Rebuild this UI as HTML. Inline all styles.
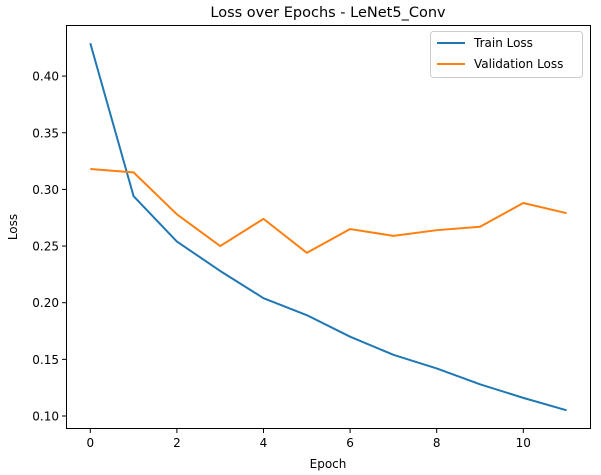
<!DOCTYPE html>
<html><head><meta charset="utf-8"><style>
body{margin:0;background:#fff}
svg{display:block;font-family:"DejaVu Sans","Liberation Sans",sans-serif}
</style></head><body>
<svg id="chart" width="601" height="475">
<text x="328" y="17" text-anchor="middle" font-size="14.5">Loss over Epochs - LeNet5_Conv</text>
<g id="plot"></g>
<rect x="66.5" y="25.5" width="524" height="403" fill="none" stroke="#000" stroke-width="1"/>
<text x="328" y="468" text-anchor="middle" font-size="12">Epoch</text>
<text x="17" y="227" text-anchor="middle" font-size="12" transform="rotate(-90 17 227)">Loss</text>
<g>
<rect x="430.5" y="31.5" width="152" height="46" rx="3" fill="#fff" stroke="#ccc"/>
<line x1="437" y1="43" x2="465" y2="43" stroke="#1f77b4" stroke-width="2"/>
<text x="474" y="47" font-size="12">Train Loss</text>
<line x1="437" y1="64" x2="465" y2="64" stroke="#ff7f0e" stroke-width="2"/>
<text x="474" y="68" font-size="12">Validation Loss</text>
</g>
</svg>
<script>
const epochs=[0,1,2,3,4,5,6,7,8,9,10,11];
const trainLoss=[0.429,0.294,0.254,0.228,0.204,0.189,0.170,0.154,0.142,0.128,0.116,0.105];
const valLoss=[0.318,0.315,0.278,0.250,0.274,0.244,0.265,0.259,0.264,0.267,0.288,0.279];
const xTicks=[0,2,4,6,8,10];
const yTicks=[0.10,0.15,0.20,0.25,0.30,0.35,0.40];
const xs=v=>90.3+v*43.3;
const ys=v=>416-(v-0.10)*1133;
const NS="http://www.w3.org/2000/svg";
const g=document.getElementById('plot');
function mk(t,a){const e=document.createElementNS(NS,t);for(const k in a)e.setAttribute(k,a[k]);g.appendChild(e);return e;}
xTicks.forEach(t=>{
 const l=mk('line',{x1:xs(t),x2:xs(t),y1:428.5,y2:433,stroke:'#000'});
 
 
 const tx=mk('text',{x:xs(t),y:447,'text-anchor':'middle','font-size':12});
 tx.textContent=t;
 
 
});
yTicks.forEach(t=>{
 const l=mk('line',{x1:62,x2:66.5,y1:ys(t),y2:ys(t),stroke:'#000'});
 
 
 const tx=mk('text',{x:59,y:ys(t)+4.5,'text-anchor':'end','font-size':12});
 tx.textContent=t.toFixed(2);
 
 
});
function line(vals,color,name){
 const p=mk('polyline',{points:vals.map((v,i)=>xs(epochs[i])+','+ys(v)).join(' '),fill:'none',stroke:color,'stroke-width':2,'stroke-linejoin':'round'});
 
 
}
line(trainLoss,'#1f77b4','train-loss-line');
line(valLoss,'#ff7f0e','validation-loss-line');
</script>
</body></html>
